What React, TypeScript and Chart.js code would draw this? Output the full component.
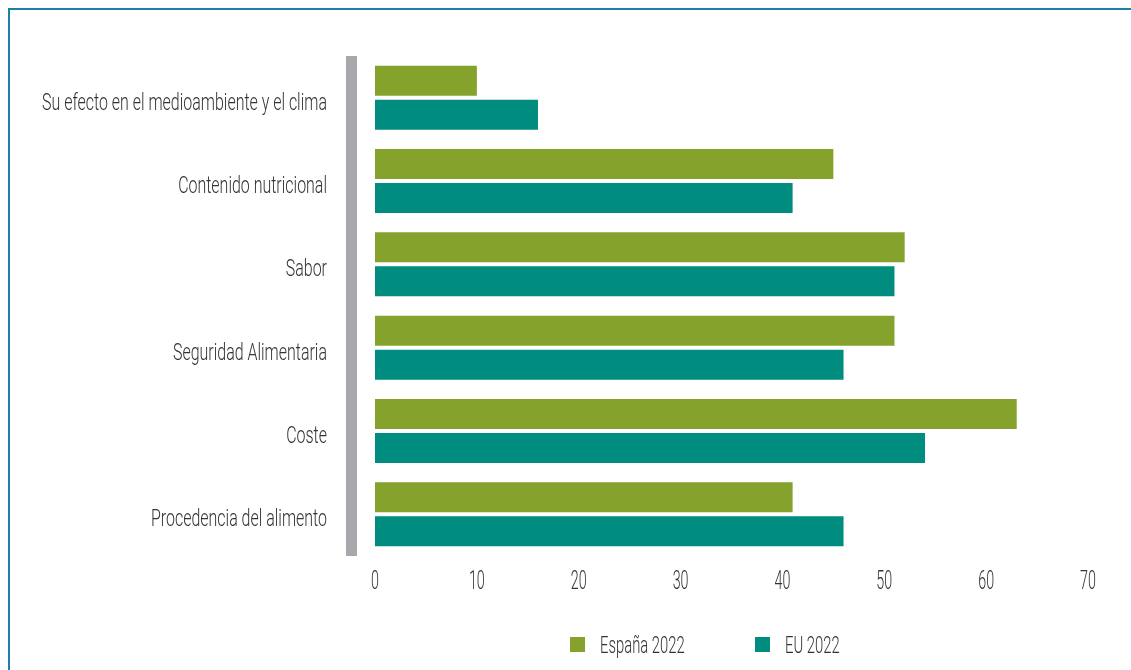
import React, { useEffect, useRef } from "react";
import { Chart, registerables } from "chart.js";

Chart.register(...registerables);

const categories = [
  "Su efecto en el medioambiente y el clima",
  "Contenido nutricional",
  "Sabor",
  "Seguridad Alimentaria",
  "Coste",
  "Procedencia del alimento",
];
const seriesNames = ["España 2022", "EU 2022"];
const espana2022 = [10, 45, 52, 51, 63, 41];
const eu2022 = [16, 41, 51, 46, 54, 46];
const xTicks = [0, 10, 20, 30, 40, 50, 60, 70];

const GREEN = "#84a22c";
const TEAL = "#008c7e";
const TEXT = "#333333";
const FONT = "Roboto, sans-serif";

// draws horizontally condensed text (the reference uses a condensed face)
function condensedText(ctx: any, text: string, x: number, y: number, size: number, sx: number, align: "left" | "right" | "center") {
  ctx.save();
  ctx.font = `300 ${size}px ${FONT}`;
  ctx.textBaseline = "alphabetic";
  ctx.textAlign = align;
  ctx.fillStyle = TEXT;
  ctx.translate(x, y);
  ctx.scale(sx, 1);
  ctx.fillText(text, 0, 0);
  ctx.restore();
}

const greyBarPlugin = {
  id: "greyBar",
  beforeDatasetsDraw(chart: any) {
    const { ctx, chartArea } = chart;
    ctx.save();
    ctx.fillStyle = "#a7a8ac";
    ctx.fillRect(chartArea.left - 29, chartArea.top, 11, chartArea.bottom - chartArea.top);
    ctx.restore();
  },
};

const labelsPlugin = {
  id: "condensedLabels",
  afterDraw(chart: any) {
    const { ctx, chartArea, scales } = chart;
    // y category labels
    (chart.data.labels as string[]).forEach((lab, i) => {
      const y = scales.y.getPixelForValue(i);
      condensedText(ctx, lab, chartArea.left - 48, y + 12, 24, 0.665, "right");
    });
    // x tick labels
    scales.x.ticks.forEach((t: any) => {
      const x = scales.x.getPixelForValue(t.value);
      condensedText(ctx, String(t.value), x, chartArea.bottom + 33, 26, 0.55, "center");
    });
    // legend
    const xs = [570, 755];
    chart.data.datasets.forEach((ds: any, i: number) => {
      const x = xs[i];
      ctx.save();
      ctx.fillStyle = ds.backgroundColor;
      ctx.fillRect(x, 637, 15, 15);
      ctx.restore();
      condensedText(ctx, ds.label, x + 30, 653, 23, 0.645, "left");
    });
  },
};

export default function App() {
  const ref = useRef<HTMLCanvasElement>(null);
  useEffect(() => {
    if (!ref.current) return;
    const chart = new Chart(ref.current, {
      type: "bar",
      data: {
        labels: categories,
        datasets: [
          { label: seriesNames[0], data: espana2022, backgroundColor: GREEN, categoryPercentage: 0.816, barPercentage: 0.882 },
          { label: seriesNames[1], data: eu2022, backgroundColor: TEAL, categoryPercentage: 0.816, barPercentage: 0.882 },
        ],
      },
      options: {
        indexAxis: "y",
        animation: false,
        responsive: true,
        maintainAspectRatio: false,
        layout: { padding: { left: 0, right: 43, top: 56, bottom: 74 } },
        plugins: { legend: { display: false }, tooltip: { enabled: false } },
        scales: {
          x: {
            min: 0,
            max: 70,
            grid: { display: false, drawTicks: false },
            border: { display: false },
            afterBuildTicks: (scale: any) => {
              scale.ticks = xTicks.map((v) => ({ value: v }));
            },
            afterFit: (scale: any) => {
              scale.height = 40;
            },
            ticks: { display: false },
          },
          y: {
            grid: { display: false, drawTicks: false },
            border: { display: false },
            afterFit: (scale: any) => {
              scale.width = 375;
            },
            ticks: { display: false },
          },
        },
      },
      plugins: [greyBarPlugin, labelsPlugin],
    });
    return () => chart.destroy();
  }, []);

  return (
    <>
      <div
        style={{
          position: "fixed",
          left: 8,
          top: 8,
          width: 1123,
          height: 662,
          boxSizing: "border-box",
          borderLeft: "2px solid #1d7fa5",
          borderTop: "2px solid #1d7fa5",
        }}
      />
      <div style={{ position: "fixed", left: 0, top: 0, width: 1131, height: 670 }}>
        <canvas ref={ref} />
      </div>
    </>
  );
}
